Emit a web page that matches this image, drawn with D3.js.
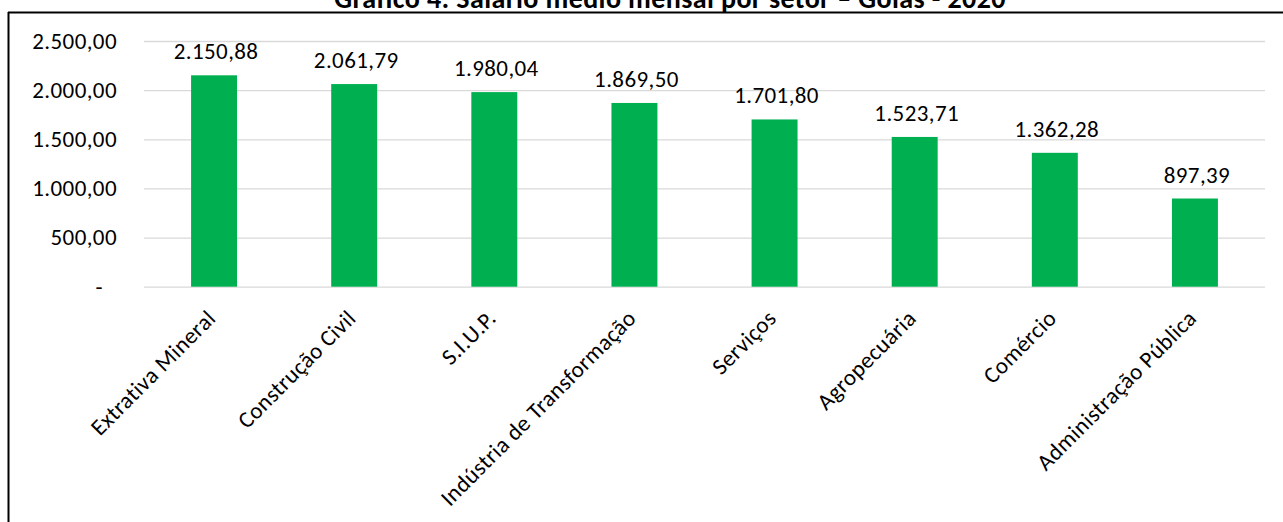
<!DOCTYPE html>
<html>
<head>
<meta charset="utf-8">
<script src="https://cdn.jsdelivr.net/npm/d3@7"></script>
<style>
  html, body { margin: 0; padding: 0; background: #fff; }
  svg { display: block; }
  text { font-family: Carlito, Calibri, Lato, sans-serif; fill: #000; }
</style>
</head>
<body>
<svg id="chart" width="1283" height="522"></svg>
<script>
const title = "Gráfico 4: Salário médio mensal por setor – Goiás - 2020";
const categories = ["Extrativa Mineral", "Construção Civil", "S.I.U.P.", "Indústria de Transformação", "Serviços", "Agropecuária", "Comércio", "Administração Pública"];
const values = [2150.88, 2061.79, 1980.04, 1869.50, 1701.80, 1523.71, 1362.28, 897.39];
const tickValues = [0, 500, 1000, 1500, 2000, 2500];
const tickLabels = ["-", "500,00", "1.000,00", "1.500,00", "2.000,00", "2.500,00"];

const locale = d3.formatLocale({decimal: ",", thousands: ".", grouping: [3], currency: ["R$", ""]});
const fmt = locale.format(",.2f");

const svg = d3.select("#chart");
const W = 1283, H = 522;
const plot = {left: 144, right: 1265, top: 41, bottom: 286.7};
const FS = 23, LS = 0.4;

const x = d3.scaleBand().domain(categories).range([plot.left, plot.right]).paddingInner(0.672).paddingOuter(0.336);
const y = d3.scaleLinear().domain([0, 2500]).range([plot.bottom, plot.top]);

// frame
svg.append("line").attr("x1", 8).attr("x2", W).attr("y1", 12.5).attr("y2", 12.5).attr("stroke", "#000").attr("stroke-width", 2);
svg.append("line").attr("x1", 8.5).attr("x2", 8.5).attr("y1", 12).attr("y2", H).attr("stroke", "#000").attr("stroke-width", 2);

// title (partially cut at top, as in the reference)
svg.append("text").attr("x", 670).attr("y", 8).attr("text-anchor", "middle")
  .attr("font-weight", "bold").attr("font-size", 28).attr("letter-spacing", 0.4).text(title);

// gridlines + y labels
const yAxis = d3.axisLeft(y).tickValues(tickValues).tickSize(-(plot.right - plot.left)).tickPadding(27)
  .tickFormat((d, i) => tickLabels[i]);
const gy = svg.append("g").attr("transform", `translate(${plot.left},0)`).call(yAxis);
gy.select(".domain").remove();
gy.selectAll(".tick line").attr("stroke", "#d9d9d9").attr("stroke-width", 1.3);
gy.selectAll(".tick text").attr("font-size", FS).attr("letter-spacing", LS).attr("fill", "#000")
  .attr("font-family", "Carlito, Calibri, Lato, sans-serif");
gy.selectAll(".tick text").filter((d) => d === 0).attr("dx", -14);

// bars
svg.append("g").selectAll("rect").data(values).join("rect")
  .attr("x", (d, i) => x(categories[i]))
  .attr("width", x.bandwidth())
  .attr("y", d => y(d))
  .attr("height", d => y(0) - y(d))
  .attr("fill", "#00b050");

// data labels
svg.append("g").selectAll("text").data(values).join("text")
  .attr("x", (d, i) => x(categories[i]) + x.bandwidth() / 2 + 2)
  .attr("y", d => y(d) - 16)
  .attr("text-anchor", "middle")
  .attr("font-size", FS).attr("letter-spacing", LS)
  .text(d => fmt(d));

// category labels
const xAxis = d3.axisBottom(x).tickSize(0).tickPadding(0);
const gx = svg.append("g").attr("transform", `translate(0,${plot.bottom})`).call(xAxis);
gx.select(".domain").remove();
gx.selectAll(".tick text")
  .attr("font-size", FS).attr("letter-spacing", LS).attr("fill", "#000")
  .attr("font-family", "Carlito, Calibri, Lato, sans-serif")
  .attr("text-anchor", "end").attr("dy", 0)
  .attr("transform", "translate(3,33) rotate(-45)");
</script>
</body>
</html>
